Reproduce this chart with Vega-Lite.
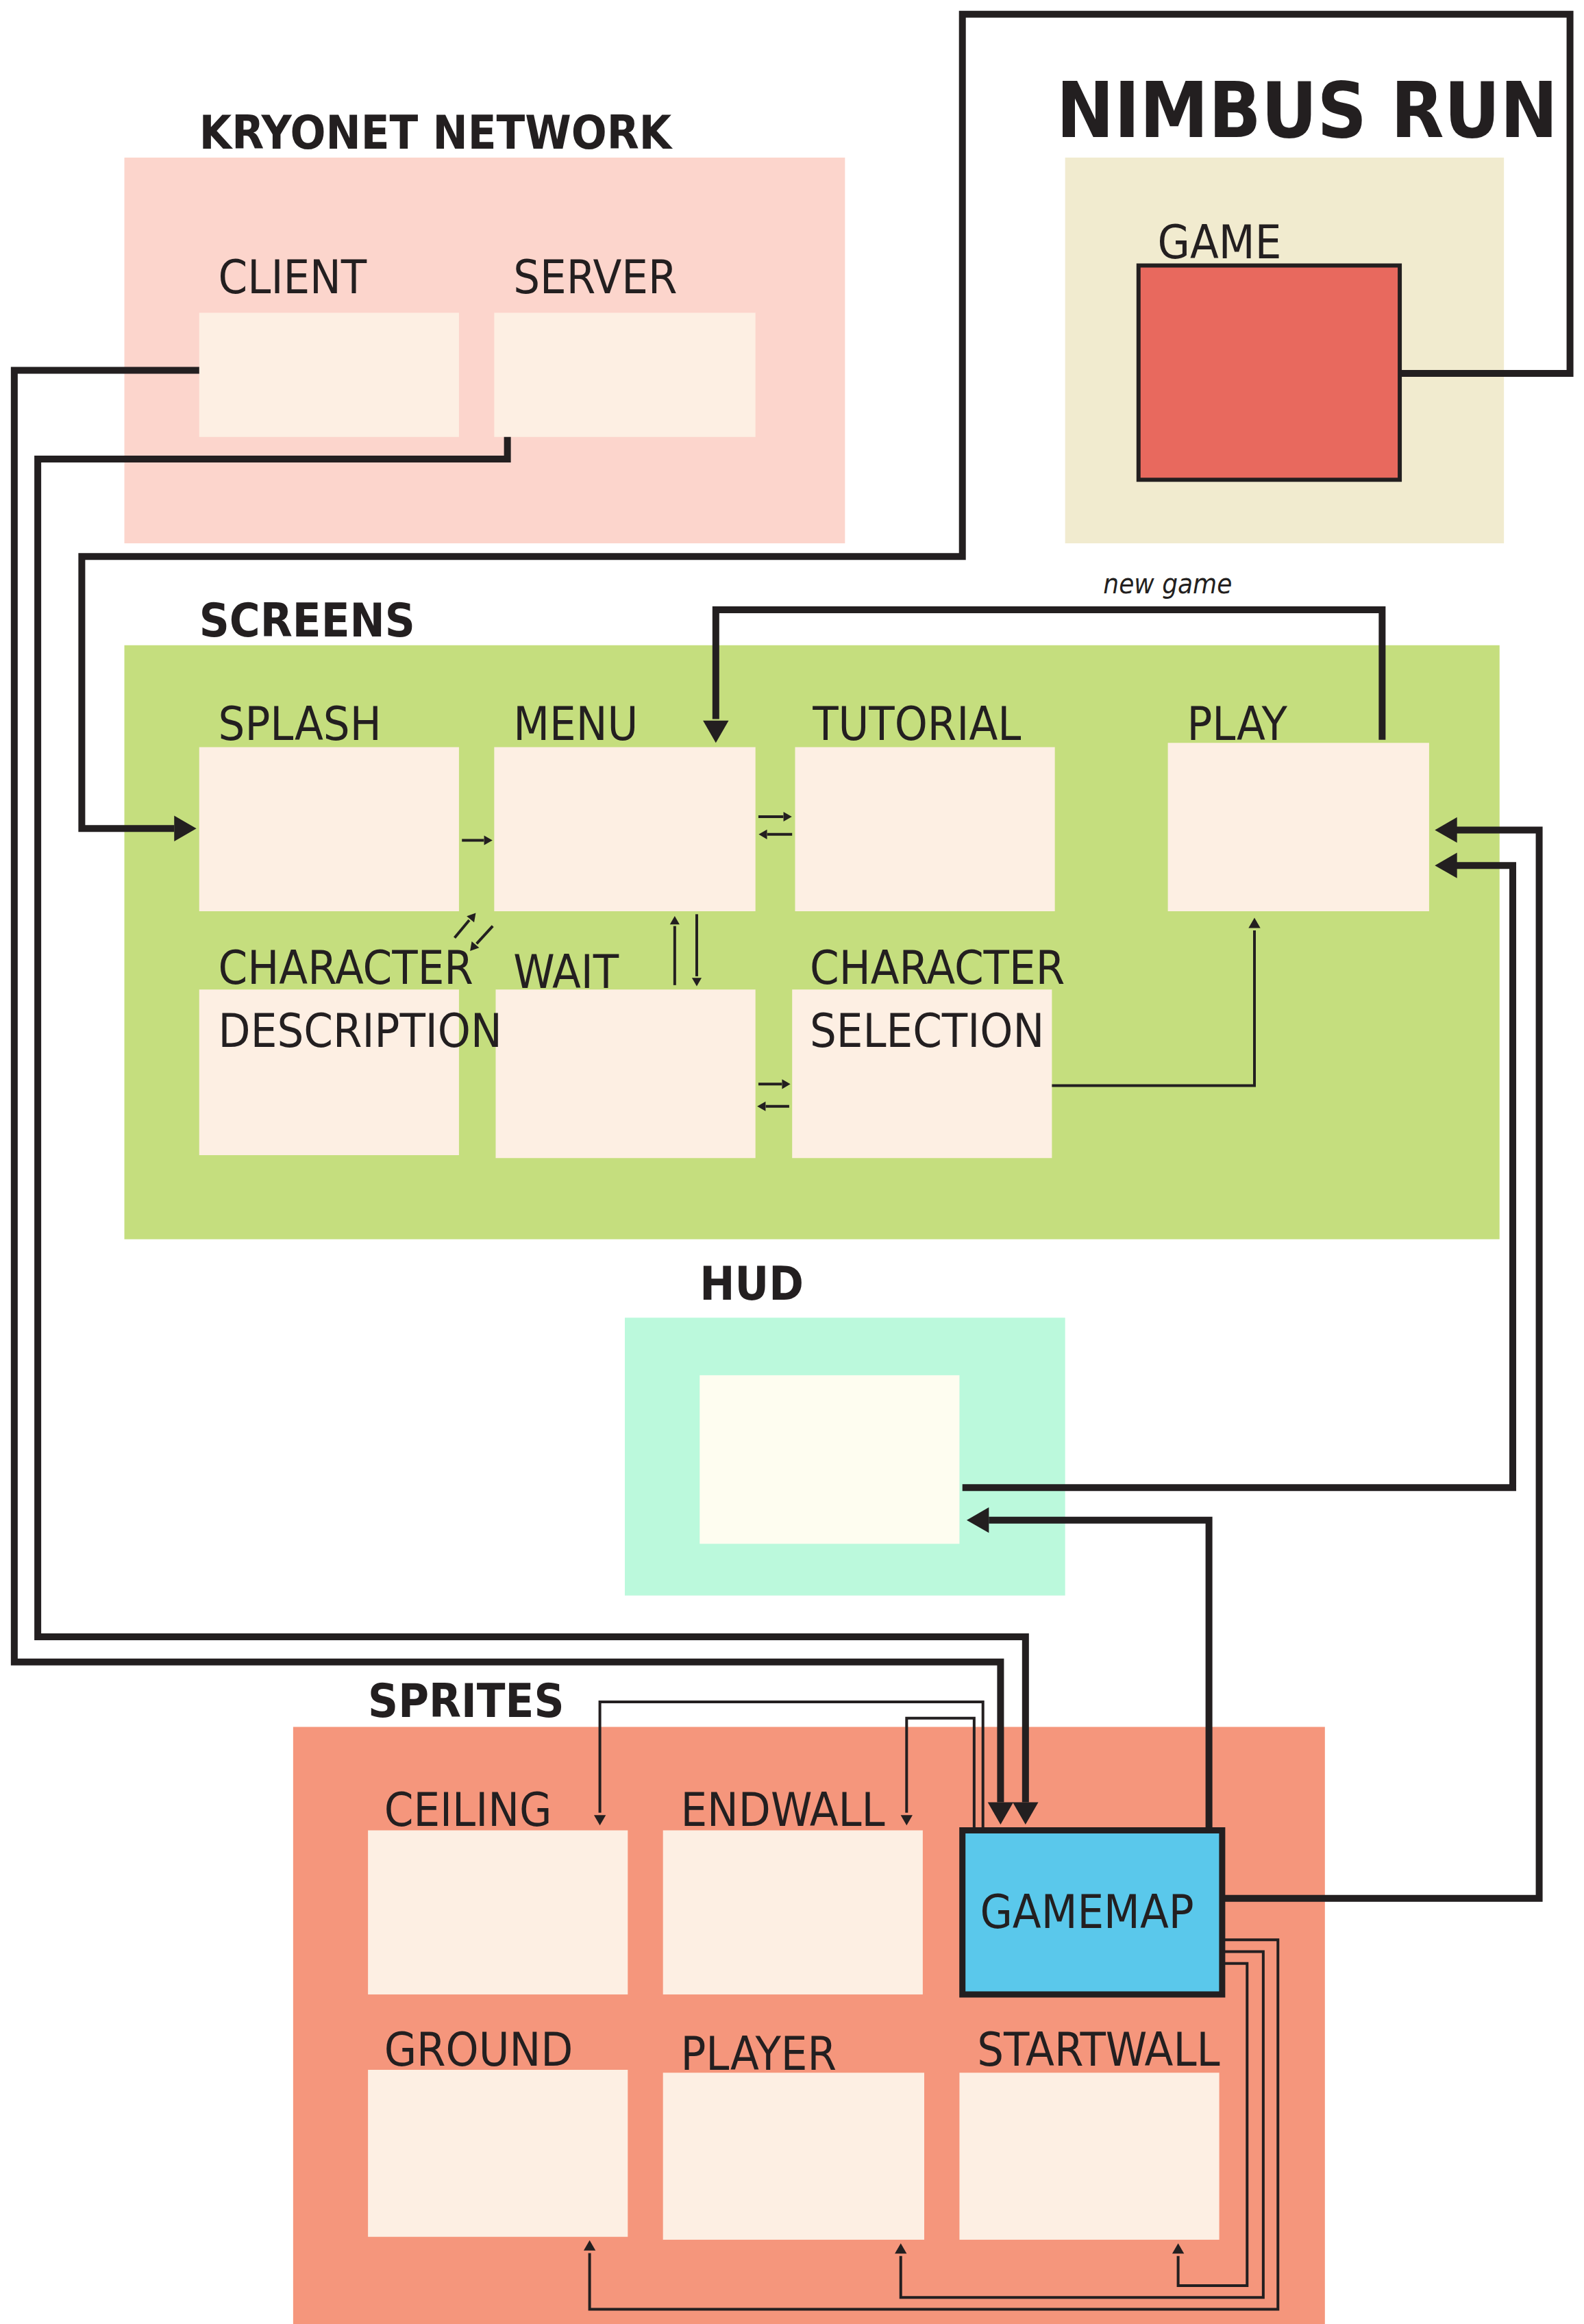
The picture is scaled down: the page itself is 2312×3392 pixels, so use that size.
{
  "$schema": "https://vega.github.io/schema/vega-lite/v6.json",
  "width": 2312,
  "height": 3392,
  "autosize": {"type": "fit", "contains": "padding"},
  "padding": 0,
  "background": "white",
  "config": {"view": {"stroke": null}},
  "datasets": {
    "boxes": [
      {"n": "kryonet", "x": 81, "y": 102, "x2": 572, "y2": 363, "f": "#fcd5cc", "s": "none", "w": 0},
      {"n": "client", "x": 132, "y": 207, "x2": 309, "y2": 291, "f": "#fdefe3", "s": "none", "w": 0},
      {"n": "server", "x": 333, "y": 207, "x2": 511, "y2": 291, "f": "#fdefe3", "s": "none", "w": 0},
      {"n": "nimbus", "x": 722, "y": 102, "x2": 1021, "y2": 363, "f": "#f1ebcf", "s": "none", "w": 0},
      {"n": "game", "x": 772, "y": 175, "x2": 950, "y2": 320, "f": "#e8695e", "s": "#231f20", "w": 6},
      {"n": "screens", "x": 81, "y": 432, "x2": 1018, "y2": 834, "f": "#c5de7e", "s": "none", "w": 0},
      {"n": "splash", "x": 132, "y": 501, "x2": 309, "y2": 612, "f": "#fdefe3", "s": "none", "w": 0},
      {"n": "menu", "x": 333, "y": 501, "x2": 511, "y2": 612, "f": "#fdefe3", "s": "none", "w": 0},
      {"n": "tutorial", "x": 538, "y": 501, "x2": 715, "y2": 612, "f": "#fdefe3", "s": "none", "w": 0},
      {"n": "play", "x": 792, "y": 498, "x2": 970, "y2": 612, "f": "#fdefe3", "s": "none", "w": 0},
      {"n": "chardesc", "x": 132, "y": 665, "x2": 309, "y2": 777, "f": "#fdefe3", "s": "none", "w": 0},
      {"n": "wait", "x": 334, "y": 665, "x2": 511, "y2": 779, "f": "#fdefe3", "s": "none", "w": 0},
      {"n": "charsel", "x": 536, "y": 665, "x2": 713, "y2": 779, "f": "#fdefe3", "s": "none", "w": 0},
      {"n": "hudbg", "x": 422, "y": 887, "x2": 722, "y2": 1075, "f": "#bbf9dc", "s": "none", "w": 0},
      {"n": "hud", "x": 473, "y": 926, "x2": 650, "y2": 1040, "f": "#fefdf0", "s": "none", "w": 0},
      {"n": "sprites", "x": 196, "y": 1164, "x2": 899, "y2": 1568, "f": "#f5967c", "s": "none", "w": 0},
      {"n": "ceiling", "x": 247, "y": 1234, "x2": 424, "y2": 1345, "f": "#fdefe3", "s": "none", "w": 0},
      {"n": "endwall", "x": 448, "y": 1234, "x2": 625, "y2": 1345, "f": "#fdefe3", "s": "none", "w": 0},
      {"n": "gamemap", "x": 652, "y": 1234, "x2": 829, "y2": 1345, "f": "#5ac8eb", "s": "#231f20", "w": 9},
      {"n": "ground", "x": 247, "y": 1396, "x2": 424, "y2": 1509, "f": "#fdefe3", "s": "none", "w": 0},
      {"n": "player", "x": 448, "y": 1398, "x2": 626, "y2": 1511, "f": "#fdefe3", "s": "none", "w": 0},
      {"n": "startwall", "x": 650, "y": 1398, "x2": 827, "y2": 1511, "f": "#fdefe3", "s": "none", "w": 0}
    ],
    "thick": [
      {"p": "client", "o": 1, "x": 132, "y": 246}, {"p": "client", "o": 2, "x": 6, "y": 246},
      {"p": "client", "o": 3, "x": 6, "y": 1120}, {"p": "client", "o": 4, "x": 678, "y": 1120},
      {"p": "client", "o": 5, "x": 678, "y": 1215},
      {"p": "server", "o": 1, "x": 342, "y": 291}, {"p": "server", "o": 2, "x": 342, "y": 306},
      {"p": "server", "o": 3, "x": 22, "y": 306}, {"p": "server", "o": 4, "x": 22, "y": 1103},
      {"p": "server", "o": 5, "x": 695, "y": 1103}, {"p": "server", "o": 6, "x": 695, "y": 1215},
      {"p": "game", "o": 1, "x": 950, "y": 248}, {"p": "game", "o": 2, "x": 1066, "y": 248},
      {"p": "game", "o": 3, "x": 1066, "y": 5}, {"p": "game", "o": 4, "x": 652, "y": 5},
      {"p": "game", "o": 5, "x": 652, "y": 372}, {"p": "game", "o": 6, "x": 52, "y": 372},
      {"p": "game", "o": 7, "x": 52, "y": 556}, {"p": "game", "o": 8, "x": 115, "y": 556},
      {"p": "newgame", "o": 1, "x": 938, "y": 496}, {"p": "newgame", "o": 2, "x": 938, "y": 408},
      {"p": "newgame", "o": 3, "x": 484, "y": 408}, {"p": "newgame", "o": 4, "x": 484, "y": 482},
      {"p": "hudplay", "o": 1, "x": 652, "y": 1002}, {"p": "hudplay", "o": 2, "x": 1027, "y": 1002},
      {"p": "hudplay", "o": 3, "x": 1027, "y": 581}, {"p": "hudplay", "o": 4, "x": 988, "y": 581},
      {"p": "maphud", "o": 1, "x": 820, "y": 1234}, {"p": "maphud", "o": 2, "x": 820, "y": 1024},
      {"p": "maphud", "o": 3, "x": 670, "y": 1024},
      {"p": "mapplay", "o": 1, "x": 829, "y": 1280}, {"p": "mapplay", "o": 2, "x": 1045, "y": 1280},
      {"p": "mapplay", "o": 3, "x": 1045, "y": 557}, {"p": "mapplay", "o": 4, "x": 988, "y": 557}
    ],
    "thin": [
      {"p": "selplay", "o": 1, "x": 713, "y": 730}, {"p": "selplay", "o": 2, "x": 851, "y": 730},
      {"p": "selplay", "o": 3, "x": 851, "y": 625},
      {"p": "ceil", "o": 1, "x": 666, "y": 1234}, {"p": "ceil", "o": 2, "x": 666, "y": 1147},
      {"p": "ceil", "o": 3, "x": 405, "y": 1147}, {"p": "ceil", "o": 4, "x": 405, "y": 1222},
      {"p": "endw", "o": 1, "x": 660, "y": 1234}, {"p": "endw", "o": 2, "x": 660, "y": 1158},
      {"p": "endw", "o": 3, "x": 614, "y": 1158}, {"p": "endw", "o": 4, "x": 614, "y": 1222},
      {"p": "grnd", "o": 1, "x": 829, "y": 1308}, {"p": "grnd", "o": 2, "x": 867, "y": 1308},
      {"p": "grnd", "o": 3, "x": 867, "y": 1558}, {"p": "grnd", "o": 4, "x": 398, "y": 1558},
      {"p": "grnd", "o": 5, "x": 398, "y": 1520},
      {"p": "plyr", "o": 1, "x": 829, "y": 1316}, {"p": "plyr", "o": 2, "x": 857, "y": 1316},
      {"p": "plyr", "o": 3, "x": 857, "y": 1550}, {"p": "plyr", "o": 4, "x": 610, "y": 1550},
      {"p": "plyr", "o": 5, "x": 610, "y": 1522},
      {"p": "stw", "o": 1, "x": 829, "y": 1324}, {"p": "stw", "o": 2, "x": 846, "y": 1324},
      {"p": "stw", "o": 3, "x": 846, "y": 1542}, {"p": "stw", "o": 4, "x": 799, "y": 1542},
      {"p": "stw", "o": 5, "x": 799, "y": 1522},
      {"p": "a1", "o": 1, "x": 311, "y": 564}, {"p": "a1", "o": 2, "x": 326, "y": 564},
      {"p": "a2", "o": 1, "x": 513, "y": 548}, {"p": "a2", "o": 2, "x": 530, "y": 548},
      {"p": "a3", "o": 1, "x": 536, "y": 560}, {"p": "a3", "o": 2, "x": 519, "y": 560},
      {"p": "a4", "o": 1, "x": 456, "y": 662}, {"p": "a4", "o": 2, "x": 456, "y": 622},
      {"p": "a5", "o": 1, "x": 471, "y": 614}, {"p": "a5", "o": 2, "x": 471, "y": 656},
      {"p": "a6", "o": 1, "x": 513, "y": 729}, {"p": "a6", "o": 2, "x": 529, "y": 729},
      {"p": "a7", "o": 1, "x": 534, "y": 744}, {"p": "a7", "o": 2, "x": 518, "y": 744},
      {"p": "a8", "o": 1, "x": 306, "y": 630}, {"p": "a8", "o": 2, "x": 316, "y": 618},
      {"p": "a9", "o": 1, "x": 332, "y": 622}, {"p": "a9", "o": 2, "x": 321, "y": 634}
    ],
    "heads": [
      {"x": 678, "y": 1220, "a": 180, "s": 1400}, {"x": 695, "y": 1220, "a": 180, "s": 1400},
      {"x": 120, "y": 556, "a": 90, "s": 1400}, {"x": 484, "y": 488, "a": 180, "s": 1400},
      {"x": 984, "y": 581, "a": 270, "s": 1400}, {"x": 665, "y": 1024, "a": 270, "s": 1400},
      {"x": 984, "y": 557, "a": 270, "s": 1400},
      {"x": 851, "y": 621, "a": 0, "s": 300}, {"x": 405, "y": 1226, "a": 180, "s": 300},
      {"x": 614, "y": 1226, "a": 180, "s": 300}, {"x": 398, "y": 1516, "a": 0, "s": 300},
      {"x": 610, "y": 1518, "a": 0, "s": 300}, {"x": 799, "y": 1518, "a": 0, "s": 300},
      {"x": 328, "y": 564, "a": 90, "s": 200}, {"x": 532, "y": 548, "a": 90, "s": 200},
      {"x": 517, "y": 560, "a": 270, "s": 200}, {"x": 456, "y": 619, "a": 0, "s": 200},
      {"x": 471, "y": 659, "a": 180, "s": 200}, {"x": 531, "y": 729, "a": 90, "s": 200},
      {"x": 516, "y": 744, "a": 270, "s": 200}, {"x": 318, "y": 616, "a": 40, "s": 200},
      {"x": 319, "y": 636, "a": 220, "s": 200}
    ],
    "labels": [
      {"t": "CLIENT", "x": 145, "y": 194}, {"t": "SERVER", "x": 346, "y": 194},
      {"t": "GAME", "x": 785, "y": 170}, {"t": "SPLASH", "x": 145, "y": 496},
      {"t": "MENU", "x": 346, "y": 496}, {"t": "TUTORIAL", "x": 550, "y": 496},
      {"t": "PLAY", "x": 805, "y": 496}, {"t": "CHARACTER", "x": 145, "y": 661},
      {"t": "DESCRIPTION", "x": 145, "y": 704}, {"t": "WAIT", "x": 346, "y": 664},
      {"t": "CHARACTER", "x": 548, "y": 661}, {"t": "SELECTION", "x": 548, "y": 704},
      {"t": "CEILING", "x": 258, "y": 1231}, {"t": "ENDWALL", "x": 460, "y": 1231},
      {"t": "GAMEMAP", "x": 664, "y": 1300}, {"t": "GROUND", "x": 258, "y": 1393},
      {"t": "PLAYER", "x": 460, "y": 1396}, {"t": "STARTWALL", "x": 662, "y": 1393}
    ],
    "titles": [
      {"t": "KRYONET NETWORK", "x": 132, "y": 96}, {"t": "SCREENS", "x": 132, "y": 426},
      {"t": "HUD", "x": 473, "y": 875}, {"t": "SPRITES", "x": 247, "y": 1157}
    ]
  },
  "encoding": {
    "x": {"field": "x", "type": "quantitative", "scale": {"domain": [0, 1069], "nice": false, "zero": false}, "axis": null},
    "y": {"field": "y", "type": "quantitative", "scale": {"domain": [0, 1568], "nice": false, "zero": false, "reverse": true}, "axis": null}
  },
  "layer": [
    {
      "data": {"name": "boxes"},
      "mark": {"type": "rect"},
      "encoding": {
        "x2": {"field": "x2"},
        "y2": {"field": "y2"},
        "fill": {"field": "f", "type": "nominal", "scale": null},
        "stroke": {"field": "s", "type": "nominal", "scale": null},
        "strokeWidth": {"field": "w", "type": "quantitative", "scale": null}
      }
    },
    {
      "data": {"name": "thick"},
      "mark": {"type": "line", "color": "#231f20", "strokeWidth": 10, "strokeJoin": "miter", "strokeCap": "butt"},
      "encoding": {"detail": {"field": "p"}, "order": {"field": "o"}}
    },
    {
      "data": {"name": "thin"},
      "mark": {"type": "line", "color": "#231f20", "strokeWidth": 4, "strokeJoin": "miter", "strokeCap": "butt"},
      "encoding": {"detail": {"field": "p"}, "order": {"field": "o"}}
    },
    {
      "data": {"name": "heads"},
      "mark": {"type": "point", "shape": "triangle", "filled": true, "color": "#231f20", "opacity": 1},
      "encoding": {
        "angle": {"field": "a", "type": "quantitative", "scale": null},
        "size": {"field": "s", "type": "quantitative", "scale": null}
      }
    },
    {
      "data": {"name": "labels"},
      "mark": {"type": "text", "font": "DejaVu Sans Condensed, Roboto, sans-serif", "fontSize": 68, "align": "left", "baseline": "alphabetic", "color": "#231f20"},
      "encoding": {"text": {"field": "t"}}
    },
    {
      "data": {"name": "titles"},
      "mark": {"type": "text", "font": "DejaVu Sans Condensed, Roboto, sans-serif", "fontWeight": "bold", "fontSize": 68, "align": "left", "baseline": "alphabetic", "color": "#231f20"},
      "encoding": {"text": {"field": "t"}}
    },
    {
      "data": {"values": [{"t": "NIMBUS RUN", "x": 716, "y": 88}]},
      "mark": {"type": "text", "font": "DejaVu Sans Condensed, Roboto, sans-serif", "fontWeight": "bold", "fontSize": 112, "align": "left", "baseline": "alphabetic", "color": "#231f20"},
      "encoding": {"text": {"field": "t"}}
    },
    {
      "data": {"values": [{"t": "new game", "x": 748, "y": 397}]},
      "mark": {"type": "text", "font": "DejaVu Sans Condensed, Roboto, sans-serif", "fontStyle": "italic", "fontSize": 40, "align": "left", "baseline": "alphabetic", "color": "#231f20"},
      "encoding": {"text": {"field": "t"}}
    }
  ]
}
